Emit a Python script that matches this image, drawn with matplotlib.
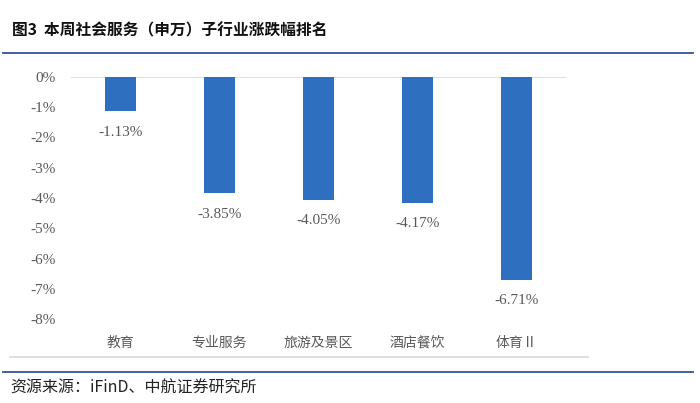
import matplotlib
matplotlib.use('Agg')
import matplotlib.pyplot as plt
from matplotlib.lines import Line2D
import numpy as np

plt.rcParams['font.family'] = ['Liberation Serif', 'Noto Sans CJK SC', 'DejaVu Sans']

# --- data --- #
categories = ['教育', '专业服务', '旅游及景区', '酒店餐饮', '体育Ⅱ']
changes = [-1.13, -3.85, -4.05, -4.17, -6.71]
yticks = [0, -1, -2, -3, -4, -5, -6, -7, -8]

title = '图3  本周社会服务（申万）子行业涨跌幅排名'
source = '资源来源：iFinD、中航证券研究所'

bar_color = '#2F6FC0'
text_gray = '#595959'
line_blue = '#2F5496'

fig = plt.figure(figsize=(7.0, 4.03), dpi=100)
ax = fig.add_axes([71 / 700, 1 - 319 / 403, 495 / 700, 242 / 403])

x = np.arange(len(categories))
ax.bar(x, changes, width=0.31, color=bar_color, zorder=3)
ax.axhline(0, color='#d9d9d9', linewidth=1.2, zorder=2)

for xi, v in zip(x, changes):
    ax.annotate(f'{v:.2f}%', (xi, v), xytext=(0, -15), textcoords='offset points',
                ha='center', va='center', fontsize=11, color=text_gray,
                family=['Liberation Serif', 'Noto Sans CJK SC'])

ax.set_xlim(-0.5, len(categories) - 0.5)
ax.set_ylim(-8, 0)
ax.set_yticks(yticks)
ax.set_yticklabels([f'{t}%' for t in yticks], fontsize=11, color=text_gray)
ax.set_xticks(x)
ax.set_xticklabels(categories, fontsize=10, color=text_gray,
                   family=['Noto Sans CJK SC', 'DejaVu Sans'])
ax.tick_params(axis='y', length=0, pad=11)
ax.tick_params(axis='x', length=0, pad=12)
for s in ax.spines.values():
    s.set_visible(False)

# --- frame lines and texts --- #
fig.text(12 / 700, 1 - 30 / 403, title, fontsize=11.3, fontweight='bold',
         color='#111111', va='center', family=['Noto Sans CJK SC', 'DejaVu Sans'])
fig.add_artist(Line2D([3 / 700, 693 / 700], [1 - 53 / 403] * 2, color=line_blue, linewidth=1.3))
fig.add_artist(Line2D([10 / 700, 588 / 700], [1 - 357 / 403] * 2, color='#d9d9d9', linewidth=1.2))
fig.add_artist(Line2D([3 / 700, 693 / 700], [1 - 372 / 403] * 2, color=line_blue, linewidth=1.3))
fig.text(10 / 700, 1 - 388 / 403, source, fontsize=11.5, color='#222222', va='center',
         family=['Noto Sans CJK SC', 'DejaVu Sans'])

fig.savefig('out.png', dpi=100)
